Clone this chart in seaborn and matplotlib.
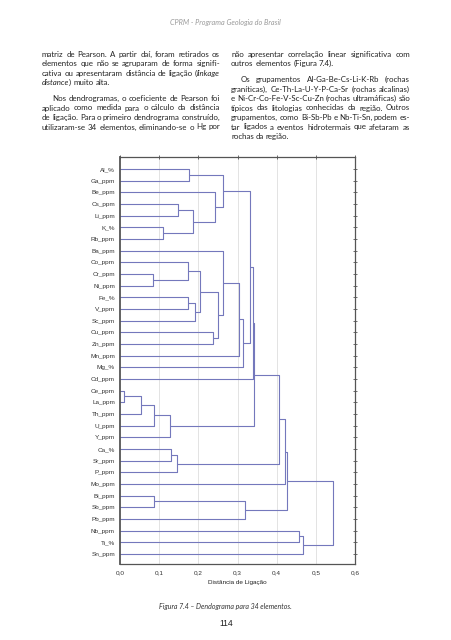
import matplotlib
matplotlib.use("Agg")
import matplotlib.pyplot as plt
import numpy as np
import pandas as pd
import seaborn as sns

W, H = 451, 640

# leaves, top to bottom
LEAVES = ["Al_%", "Ga_ppm", "Be_ppm", "Cs_ppm", "Li_ppm", "K_%", "Rb_ppm",
          "Ba_ppm", "Co_ppm", "Cr_ppm", "Ni_ppm", "Fe_%", "V_ppm", "Sc_ppm",
          "Cu_ppm", "Zn_ppm", "Mn_ppm", "Mg_%", "Cd_ppm", "Ce_ppm", "La_ppm",
          "Th_ppm", "U_ppm", "Y_ppm", "Ca_%", "Sr_ppm", "P_ppm", "Mo_ppm",
          "Bi_ppm", "Sb_ppm", "Pb_ppm", "Nb_ppm", "Ti_%", "Sn_ppm"]

# linkage: leaf name or index of an earlier merge
LINK_A = ["Al_%", "Cs_ppm", "K_%", 1, "Be_ppm", 0, "Cr_ppm", "Co_ppm", "Fe_%", 8,
          7, "Cu_ppm", 10, "Ba_ppm", 13, 14, 5, 16, "Ce_ppm", 18, 19, 20, 17,
          "Ca_%", 23, 22, 25, "Bi_ppm", 27, 26, "Nb_ppm", 30, 29]
LINK_B = ["Ga_ppm", "Li_ppm", "Rb_ppm", 2, 3, 4, "Ni_ppm", 6, "V_ppm", "Sc_ppm",
          9, "Zn_ppm", 11, 12, "Mn_ppm", "Mg_%", 15, "Cd_ppm", "La_ppm", "Th_ppm",
          "U_ppm", "Y_ppm", 21, "Sr_ppm", "P_ppm", 24, "Mo_ppm", "Sb_ppm", "Pb_ppm",
          28, "Ti_%", "Sn_ppm", 31]
LINK_H = [0.177, 0.147, 0.110, 0.187, 0.243, 0.264, 0.084, 0.173, 0.174, 0.192,
          0.205, 0.238, 0.251, 0.264, 0.303, 0.314, 0.333, 0.339, 0.011, 0.054,
          0.088, 0.128, 0.341, 0.130, 0.146, 0.407, 0.420, 0.088, 0.318, 0.427,
          0.457, 0.467, 0.545]

X_TICKS = [0.0, 0.1, 0.2, 0.3, 0.4, 0.5, 0.6]
X_TICK_LABELS = ["0,0", "0,1", "0,2", "0,3", "0,4", "0,5", "0,6"]

LINE_COLOR = "#7478bc"
BODY_FONT = ["Lato", "DejaVu Sans"]
BODY_SIZE = 5.7
TEXT_COLOR = "#222222"


def build_segments():
    node_y = []
    rows = []
    for i, (a, b, h) in enumerate(zip(LINK_A, LINK_B, LINK_H)):
        ends = []
        for ref in (a, b):
            if isinstance(ref, str):
                ends.append((LEAVES.index(ref), 0.0))
            else:
                ends.append((node_y[ref], LINK_H[ref]))
        (ya, ha), (yb, hb) = ends
        node_y.append((ya + yb) / 2)
        for x, y in [(ha, ya), (h, ya), (h, yb), (hb, yb)]:
            rows.append({"seg": i, "dist": x, "row": y})
    return pd.DataFrame(rows)


sns.set_theme(style="white")
plt.rcParams["font.family"] = ["Liberation Sans", "DejaVu Sans"]

fig = plt.figure(figsize=(W / 100, H / 100), dpi=100)
fig.patch.set_facecolor("white")

# dendrogram axes
ax = fig.add_axes([120 / W, 1 - 564 / H, (355 - 120) / W, (564 - 157) / H])
seg_df = build_segments()
sns.lineplot(data=seg_df, x="dist", y="row", units="seg", estimator=None,
             sort=False, color=LINE_COLOR, lw=0.8, ax=ax, legend=False)

ax.set_xlim(0, 0.6)
ax.set_ylim(33 + 10 / 11.66, -12 / 11.66)
ax.set_xticks(X_TICKS)
ax.set_xticklabels(X_TICK_LABELS)
ax.set_yticks(range(len(LEAVES)))
ax.set_yticklabels(LEAVES)
for x in X_TICKS[1:-1]:
    ax.axvline(x, color="#dedede", lw=0.6, zorder=0)
ax.tick_params(axis="both", labelsize=4.6, colors="#333333", direction="inout",
               length=2.2, width=0.5, pad=2.5, top=True, right=True,
               labeltop=False, labelright=False)
ax.tick_params(axis="x", pad=3.5)
for sp in ax.spines.values():
    sp.set_visible(True)
    sp.set_color("#555555")
    sp.set_linewidth(0.9)
ax.spines["left"].set_linewidth(1.3)
ax.set_xlabel("Distância de Ligação", fontsize=4.6, color="#222222", labelpad=3)
ax.set_ylabel("")
ax.grid(False)

# page text
renderer = fig.canvas.get_renderer()


def parse_word(word):
    segs = []
    buf, italic = "", False
    for ch in word:
        if ch in "{}":
            if buf:
                segs.append((buf, italic))
            buf = ""
            italic = ch == "{"
        else:
            buf += ch
    if buf:
        segs.append((buf, italic))
    return segs


def text_width(txt, italic):
    t = fig.text(0, 0, txt, fontsize=BODY_SIZE, family=BODY_FONT,
                 style="italic" if italic else "normal")
    w = t.get_window_extent(renderer).width
    t.remove()
    return w


SPACE = text_width("a a", False) - text_width("aa", False)


def put_line(line, x0, x1, yc, justify):
    words = [parse_word(w) for w in line.split()]
    widths = [[text_width(s, it) for s, it in w] for w in words]
    total = sum(sum(w) for w in widths)
    if justify and len(words) > 1:
        gap = (x1 - x0 - total) / (len(words) - 1)
    else:
        gap = SPACE
    x = x0
    for w, ws in zip(words, widths):
        for (s, it), sw in zip(w, ws):
            fig.text(x / W, 1 - (yc + 2.4) / H, s, fontsize=BODY_SIZE,
                     family=BODY_FONT, style="italic" if it else "normal",
                     color=TEXT_COLOR, ha="left", va="baseline")
            x += sw
        x += gap


LH, PG = 9.5, 6.3
LEFT_X, LEFT_R = 42, 220
RIGHT_X, RIGHT_R = 231, 410
INDENT = 10

left_paras = [
    ["matriz de Pearson. A partir daí, foram retirados os",
     "elementos que não se agruparam de forma signifi-",
     "cativa ou apresentaram distância de ligação ({linkage}",
     "{distance}) muito alta."],
    ["Nos dendrogramas, o coeficiente de Pearson foi",
     "aplicado como medida para o cálculo da distância",
     "de ligação. Para o primeiro dendrograma construído,",
     "utilizaram-se 34 elementos, eliminando-se o Hg por"],
]
right_paras = [
    ["não apresentar correlação linear significativa com",
     "outros elementos (Figura 7.4)."],
    ["Os grupamentos Al-Ga-Be-Cs-Li-K-Rb (rochas",
     "graníticas), Ce-Th-La-U-Y-P-Ca-Sr (rochas alcalinas)",
     "e Ni-Cr-Co-Fe-V-Sc-Cu-Zn (rochas ultramáficas) são",
     "típicos das litologias conhecidas da região. Outros",
     "grupamentos, como Bi-Sb-Pb e Nb-Ti-Sn, podem es-",
     "tar ligados a eventos hidrotermais que afetaram as",
     "rochas da região."],
]
open_end = {("L", 1)}  # paragraph continuing in next column

for side, paras, xl, xr in [("L", left_paras, LEFT_X, LEFT_R),
                            ("R", right_paras, RIGHT_X, RIGHT_R)]:
    y = 54.3
    for pi, para in enumerate(paras):
        for li, line in enumerate(para):
            last = li == len(para) - 1 and (side, pi) not in open_end
            x0 = xl + (INDENT if (li == 0 and pi > 0) else 0)
            put_line(line, x0, xr, y, not last)
            y += LH
        y += PG

fig.text(225.5 / W, 1 - 23 / H, "CPRM - Programa Geologia do Brasil",
         fontsize=5.2, family=BODY_FONT, style="italic", color="#9a9a9a",
         ha="center", va="center")
fig.text(225.5 / W, 1 - 607 / H, "Figura 7.4 – Dendograma para 34 elementos.",
         fontsize=5.0, family=BODY_FONT, style="italic", color="#333333",
         ha="center", va="center")
fig.text(226 / W, 1 - 623 / H, "114", fontsize=6.2, color="#222222",
         ha="center", va="center")

fig.savefig("out.png", dpi=100, facecolor="white")
